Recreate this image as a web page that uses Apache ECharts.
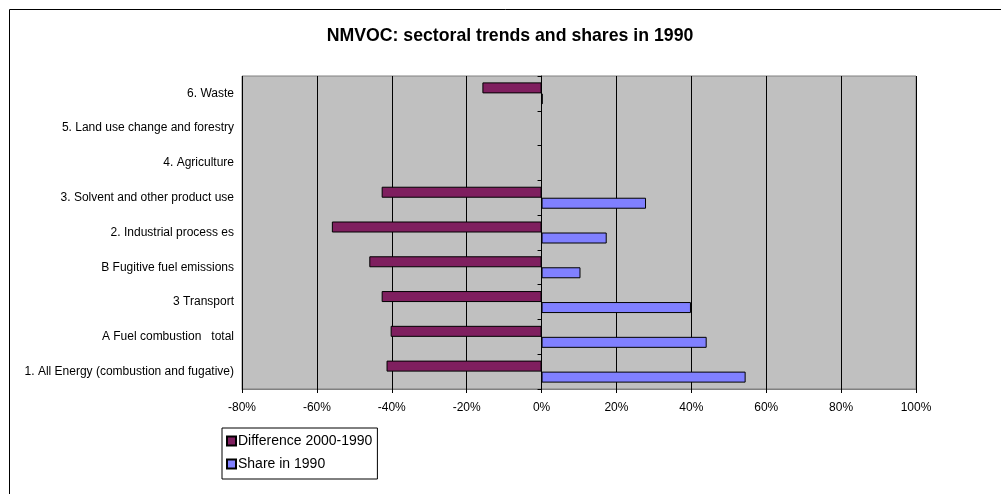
<!DOCTYPE html>
<html><head><meta charset="utf-8">
<script src="https://cdn.jsdelivr.net/npm/echarts@6/dist/echarts.min.js"></script>
<style>html,body{margin:0;padding:0;background:#fff}#c{width:1001px;height:494px}</style>
</head><body><div id="c"></div>
<script>
const categories = ["1. All Energy (combustion and fugative)","A Fuel combustion   total","3 Transport","B Fugitive fuel emissions","2. Industrial process es","3. Solvent and other product use","4. Agriculture","5. Land use change and forestry","6. Waste"];
const difference = [-41.4, -40.3, -42.7, -46.0, -56.0, -42.7, null, null, -15.8];
const share = [54.5, 44.1, 39.9, 10.4, 17.4, 27.9, null, null, 0.3];
const seriesNames = ["Difference 2000-1990", "Share in 1990"];
const xTicks = {min: -80, max: 100, interval: 20};

const chart = echarts.init(document.getElementById('c'), null, {renderer: 'canvas'});
const font = 'Liberation Sans, Arial, sans-serif';
chart.setOption({
  animation: false,
  backgroundColor: '#fff',
  textStyle: {fontFamily: font},
  title: {text: 'NMVOC: sectoral trends and shares in 1990', left: 505, textAlign: 'center', top: 22,
    textStyle: {fontFamily: font, fontSize: 17.7, fontWeight: 'bold', color: '#000'}},
  graphic: [{type: 'rect', shape: {x: 9.5, y: 9.5, width: 1200, height: 700}, style: {fill: null, stroke: '#000', lineWidth: 1}, silent: true}],
  legend: {orient: 'vertical', left: 222, top: 428, data: seriesNames, itemWidth: 9, itemHeight: 9, itemGap: 9,
    borderColor: '#000', borderWidth: 1, padding: [6, 5, 8, 4], icon: 'rect',
    textStyle: {fontFamily: font, fontSize: 14, color: '#000', padding: [0, 0, 0, -3]}},
  grid: {left: 242, right: 85, top: 76, bottom: 105, show: true, backgroundColor: '#C0C0C0', borderColor: '#808080', borderWidth: 1},
  xAxis: {type: 'value', min: xTicks.min, max: xTicks.max, interval: xTicks.interval,
    axisLabel: {formatter: '{value}%', color: '#000', fontSize: 12, fontFamily: font, margin: 13},
    axisLine: {show: true, onZero: false, lineStyle: {color: '#808080'}},
    axisTick: {show: true, length: 4, lineStyle: {color: '#000'}},
    splitLine: {show: true, lineStyle: {color: '#000', width: 1}}},
  yAxis: [
    {type: 'category', data: categories, position: 'left',
     axisLine: {show: false, onZero: false}, axisTick: {show: false},
     axisLabel: {color: '#000', fontSize: 12, fontFamily: font, margin: 8}},
    {type: 'category', data: categories, position: 'right',
     axisLine: {show: true, onZero: true, onZeroAxisIndex: 0, lineStyle: {color: '#000'}},
     axisTick: {show: true, inside: true, length: 4, lineStyle: {color: '#000'}},
     axisLabel: {show: false}}
  ],
  series: [
    {name: seriesNames[0], type: 'bar', data: difference, barWidth: 11, barGap: '0%',
     itemStyle: {color: '#7F1F5F', borderColor: '#000', borderWidth: 1}},
    {name: seriesNames[1], type: 'bar', data: share, barWidth: 11, barGap: '0%',
     itemStyle: {color: '#8080FF', borderColor: '#000', borderWidth: 1}}
  ]
});
</script></body></html>
